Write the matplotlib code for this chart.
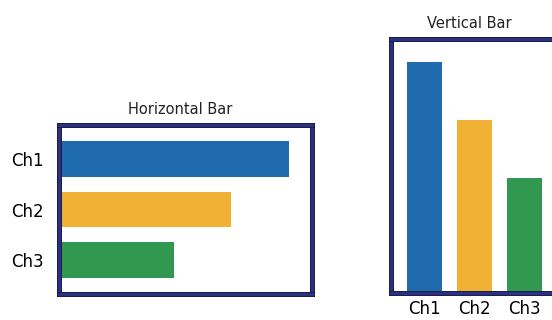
import matplotlib
matplotlib.use('Agg')
import matplotlib.pyplot as plt
import matplotlib.patheffects as pe

channels = ['Ch1', 'Ch2', 'Ch3']
values = [4, 3, 2]
colors = ['#1f6bae', '#f0b135', '#31984f']

frame_color = '#2b3180'
frame_fx = [pe.withStroke(linewidth=3.6, foreground='#15172e'), pe.Normal()]

fig = plt.figure(figsize=(5.52, 3.2), dpi=100)

def style_frame(ax):
    for sp in ax.spines.values():
        sp.set_linewidth(2.4)
        sp.set_color(frame_color)
        sp.set_path_effects(frame_fx)

# horizontal bar
ax1 = fig.add_axes([0.107, 0.081, 0.458, 0.528])
pos = list(range(len(channels)))
ax1.barh(pos, values, height=0.7, color=colors)
ax1.set_ylim(2.67, -0.67)
ax1.set_xlim(0, 4.4)
ax1.set_yticks(pos)
ax1.set_yticklabels(channels, fontsize=12)
ax1.set_xticks([])
ax1.tick_params(axis='y', length=0, pad=11)
ax1.set_title('Horizontal Bar', fontsize=10.5, pad=8, color='#222222', x=0.48)
style_frame(ax1)

# vertical bar
ax2 = fig.add_axes([0.708, 0.084, 0.303, 0.794])
ax2.bar(pos, values, width=0.7, color=colors)
ax2.set_xlim(-0.67, 2.67)
ax2.set_ylim(0, 4.4)
ax2.set_xticks(pos)
ax2.set_xticklabels(channels, fontsize=12)
ax2.set_yticks([])
ax2.tick_params(axis='x', length=0, pad=5)
ax2.set_title('Vertical Bar', fontsize=10.5, pad=8, color='#222222', x=0.47)
style_frame(ax2)

fig.savefig('out.png', dpi=100)
